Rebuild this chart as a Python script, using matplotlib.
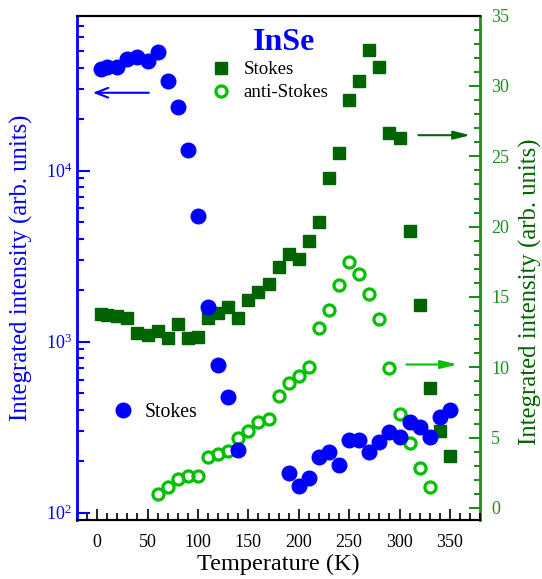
import matplotlib
matplotlib.use("Agg")
import matplotlib.pyplot as plt
from matplotlib.lines import Line2D
from matplotlib.ticker import MultipleLocator, LogLocator, NullFormatter

plt.rcParams["font.family"] = ["Liberation Serif", "DejaVu Serif"]
plt.rcParams["mathtext.fontset"] = "custom"
plt.rcParams["mathtext.rm"] = "Liberation Serif"

# =====================================
# DATA
# =====================================

# Stokes, left log axis (blue)
t_blue = [4, 10, 20, 30, 40, 50, 60, 70, 80, 90, 100, 110, 120, 130, 140,
          190, 200, 210, 220, 230, 240, 250, 260, 270, 280, 290, 300,
          310, 320, 330, 340, 350]
i_blue = [39400, 40500, 40500, 45200, 46400, 44000, 49600, 33300, 23400,
          13200, 5430, 1600, 733, 476, 231,
          170, 143, 159, 212, 225, 189, 265, 265, 226, 258, 295, 276,
          338, 316, 275, 361, 399]

# Stokes, right linear axis (dark green squares)
t_sq = [4, 10, 20, 30, 40, 50, 60, 70, 80, 90, 100, 110, 120, 130, 140,
        150, 160, 170, 180, 190, 200, 210, 220, 230, 240, 250, 260, 270,
        280, 290, 300, 310, 320, 330, 340, 350]
i_sq = [13.79, 13.72, 13.67, 13.52, 12.46, 12.30, 12.60, 12.10, 13.08,
        12.10, 12.17, 13.52, 13.88, 14.26, 13.52, 14.78, 15.35, 15.94,
        17.15, 18.03, 17.70, 19.00, 20.35, 23.43, 25.25, 28.99, 30.37,
        32.55, 31.37, 26.67, 26.27, 19.71, 14.43, 8.53, 5.49, 3.70]

# anti-Stokes, right linear axis (open light green circles)
t_as = [60, 70, 80, 90, 100, 110, 120, 130, 140, 150, 160, 170, 180, 190,
        200, 210, 220, 230, 240, 250, 260, 270, 280, 290, 300, 310, 320, 330]
i_as = [0.99, 1.51, 2.06, 2.30, 2.30, 3.65, 3.84, 4.07, 5.00, 5.49, 6.09,
        6.32, 7.96, 8.91, 9.40, 10.04, 12.77, 14.07, 15.85, 17.51, 16.63,
        15.21, 13.43, 9.97, 6.68, 4.60, 2.86, 1.47]

BLUE = "#0000ff"
DKGREEN = "#006400"
LTGREEN = "#00c000"
AXGREEN = "#1e8c1e"

# =====================================
# FIGURE
# =====================================

fig = plt.figure(figsize=(5.42, 5.79), dpi=100)
ax = fig.add_axes([0.142, 0.102, 0.744, 0.871])
ax2 = ax.twinx()
ax.set_zorder(ax2.get_zorder() + 1)
ax.patch.set_visible(False)

ax2.plot(t_sq, i_sq, "s", color=DKGREEN, ms=9, mec=DKGREEN, ls="none")
ax2.plot(t_as, i_as, "o", mfc="none", mec=LTGREEN, mew=2.3, ms=8, ls="none")
ax.plot(t_blue, i_blue, "o", color=BLUE, ms=10.5, ls="none")

ax.set_xlim(-20, 380)
ax.set_yscale("log")
ax.set_ylim(90.6, 80500)
ax2.set_ylim(-0.85, 35)

# x axis
ax.xaxis.set_major_locator(MultipleLocator(50))
ax.xaxis.set_minor_locator(MultipleLocator(10))
ax.tick_params(axis="x", which="major", direction="in", length=8, width=1.2,
               labelsize=13, pad=10, top=False)
ax.tick_params(axis="x", which="minor", direction="in", length=5, width=1.2, top=False)
ax.set_xlabel("Temperature (K)", fontsize=17.5, labelpad=2)

# left log axis
ax.yaxis.set_major_locator(LogLocator(base=10))
ax.yaxis.set_minor_locator(LogLocator(base=10, subs=range(2, 10)))
ax.yaxis.set_minor_formatter(NullFormatter())
ax.tick_params(axis="y", which="major", direction="in", length=9, width=1.5,
               colors=BLUE, labelsize=13)
ax.tick_params(axis="y", which="minor", direction="in", length=5, width=1.5,
               colors=BLUE)
ax.set_ylabel("Integrated intensity (arb. units)", color=BLUE, fontsize=17.8)
ax.yaxis.set_label_coords(-0.137, 0.50)
ax.yaxis.label.set_va("center")

# right linear axis
ax2.yaxis.set_major_locator(MultipleLocator(5))
ax2.yaxis.set_minor_locator(MultipleLocator(1))
ax2.tick_params(axis="y", which="major", direction="in", length=8, width=1.5,
                colors=AXGREEN, labelsize=13, pad=8)
ax2.tick_params(axis="y", which="minor", direction="in", length=4, width=1.5,
                colors=AXGREEN)
ax2.set_ylabel("Integrated intensity (arb. units)", color=DKGREEN, fontsize=17.8)
ax2.yaxis.set_label_coords(1.124, 0.452)
ax2.yaxis.label.set_va("center")

for a in (ax, ax2):
    a.spines["top"].set_color("black")
    a.spines["top"].set_linewidth(1.5)
    a.spines["bottom"].set_color("black")
    a.spines["bottom"].set_linewidth(1.5)
ax.spines["left"].set_color(BLUE)
ax.spines["left"].set_linewidth(2)
ax.spines["right"].set_visible(False)
ax2.spines["left"].set_visible(False)
ax2.spines["right"].set_color(AXGREEN)
ax2.spines["right"].set_linewidth(2)

# title
ax.text(0.513, 0.946, "InSe", transform=ax.transAxes, ha="center", va="center",
        fontsize=23, fontweight="bold", color=BLUE)

# legends
h_green = [
    Line2D([], [], marker="s", ls="none", color=DKGREEN, ms=9),
    Line2D([], [], marker="o", ls="none", mfc="none", mec=LTGREEN, mew=2.3, ms=8),
]
ax2.legend(h_green, ["Stokes", "anti-Stokes"], loc="upper left",
           bbox_to_anchor=(0.315, 0.925), frameon=False, fontsize=13.6,
           handlelength=1.0, handletextpad=0.7, labelspacing=0.3,
           borderaxespad=0)

h_blue = [Line2D([], [], marker="o", ls="none", color=BLUE, ms=10.5)]
ax.legend(h_blue, ["Stokes"], loc="upper left", bbox_to_anchor=(0.07, 0.248),
          frameon=False, fontsize=14.2, handlelength=1.0, handletextpad=0.6,
          borderaxespad=0)

# arrows
ax.annotate("", xy=(-7, 28500), xytext=(54, 28500),
            arrowprops=dict(arrowstyle="->,head_length=0.9,head_width=0.35",
                            color=BLUE, lw=1.5))
ax2.annotate("", xy=(373, 26.5), xytext=(316, 26.5),
             arrowprops=dict(arrowstyle="-|>,head_length=1.0,head_width=0.25",
                             color=DKGREEN, lw=1.5))
ax2.annotate("", xy=(360, 10.2), xytext=(304, 10.2),
             arrowprops=dict(arrowstyle="-|>,head_length=1.0,head_width=0.25",
                             color=LTGREEN, lw=1.5))

fig.savefig("out.png", dpi=100)
plt.close(fig)
